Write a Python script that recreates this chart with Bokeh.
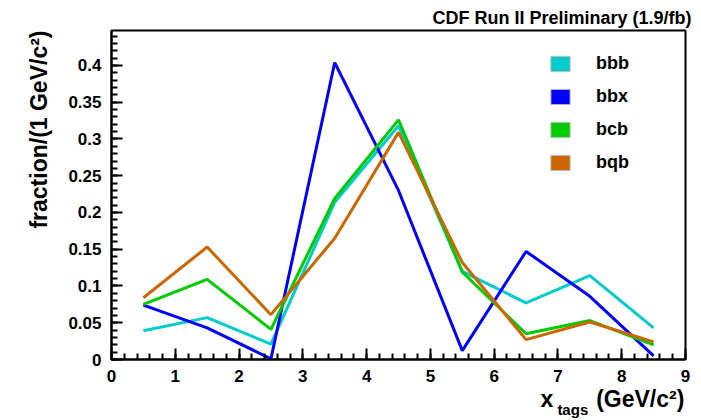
from bokeh.plotting import figure
from bokeh.models import (Range1d, FixedTicker, PrintfTickFormatter, Title,
                          Legend, LegendItem, LinearAxis)
from bokeh.embed import file_html
from bokeh.resources import INLINE

# ---- data ----
x_centers = [0.5, 1.5, 2.5, 3.5, 4.5, 5.5, 6.5, 7.5, 8.5]
bbb = [0.039, 0.057, 0.021, 0.214, 0.318, 0.120, 0.077, 0.114, 0.043]
bbx = [0.074, 0.043, 0.001, 0.404, 0.230, 0.012, 0.147, 0.086, 0.005]
bcb = [0.075, 0.109, 0.041, 0.219, 0.326, 0.119, 0.035, 0.053, 0.020]
bqb = [0.084, 0.153, 0.061, 0.165, 0.309, 0.132, 0.027, 0.051, 0.024]
series_names = ["bbb", "bbx", "bcb", "bqb"]
series_values = [bbb, bbx, bcb, bqb]
series_colors = ["#00CCCC", "#0000FF", "#00CC00", "#CC6600"]

x_major = [0, 1, 2, 3, 4, 5, 6, 7, 8, 9]
x_minor = [i * 0.2 for i in range(46)]
y_major = [0, 0.05, 0.1, 0.15, 0.2, 0.25, 0.3, 0.35, 0.4]
y_minor = [i * 0.01 for i in range(45)]
x_max = 9
y_max = 0.4476

title_text = "CDF Run II Preliminary (1.9/fb)"
y_label_text = "fraction/(1 GeV/c\u00b2)"
# x-axis title pieces, placed along the x scale
x_label_main = {6.826: "x", 8.29: "(GeV/c\u00b2)"}
x_label_sub = {7.233: "tags"}

FONT = "Liberation Sans"

p = figure(width=698, height=420, output_backend="svg", toolbar_location=None,
           x_range=Range1d(0, x_max), y_range=Range1d(0, y_max),
           min_border_left=111, min_border_right=13, min_border_top=30,
           min_border_bottom=61)
p.xgrid.visible = False
p.ygrid.visible = False
p.outline_line_color = "black"
p.outline_line_width = 2
p.background_fill_color = "white"
p.border_fill_color = "white"

p.title.text = title_text
p.title.align = "right"
p.title.offset = -6
p.title.text_font = FONT
p.title.text_font_style = "bold"
p.title.text_font_size = "18px"
p.title.text_color = "black"
p.title.standoff = 5

for ax, maj, mino in ((p.xaxis[0], x_major, x_minor), (p.yaxis[0], y_major, y_minor)):
    ax.ticker = FixedTicker(ticks=maj, minor_ticks=mino)
    ax.axis_line_color = "black"
    ax.axis_line_width = 2
    ax.major_tick_line_width = 2
    ax.minor_tick_line_width = 2
    ax.major_tick_in = 11
    ax.major_tick_out = 0
    ax.minor_tick_in = 6
    ax.minor_tick_out = 0
    ax.major_label_text_font = FONT
    ax.major_label_text_font_style = "bold"
    ax.major_label_text_font_size = "17px"
    ax.major_label_text_color = "black"
    ax.major_label_standoff = 10

p.yaxis[0].formatter = PrintfTickFormatter(format="%g")

# y-axis title on the left, aligned to the top end
p.add_layout(Title(text=y_label_text, align="right", text_font=FONT,
                   text_font_style="bold", text_font_size="23px",
                   text_color="black", standoff=27), "left")


def label_axis(labels, size, standoff):
    ax = LinearAxis(ticker=FixedTicker(ticks=list(labels.keys())),
                    major_label_overrides=labels)
    ax.axis_line_color = None
    ax.major_tick_line_color = None
    ax.minor_tick_line_color = None
    ax.major_tick_in = 0
    ax.major_tick_out = 0
    ax.minor_tick_in = 0
    ax.minor_tick_out = 0
    ax.major_label_text_font = FONT
    ax.major_label_text_font_style = "bold"
    ax.major_label_text_font_size = size
    ax.major_label_text_color = "black"
    ax.major_label_standoff = standoff
    p.add_layout(ax, "below")


label_axis(x_label_main, "23px", 1)
label_axis(x_label_sub, "15px", -14)

for name, vals, col in zip(series_names, series_values, series_colors):
    p.line(x_centers, vals, line_color=col, line_width=3)

# legend with filled boxes (renderers hold no visible data)
nan = float("nan")
items = []
for name, col in zip(series_names, series_colors):
    r = p.rect(x=[nan], y=[nan], width=1, height=1, fill_color=col,
               line_color="#BBBBBB", line_width=1)
    items.append(LegendItem(label=name, renderers=[r]))
leg = Legend(items=items, location=(437, 186), padding=0, margin=0,
             glyph_width=24, glyph_height=19, label_height=19, spacing=12,
             label_standoff=24, border_line_alpha=0, background_fill_alpha=0,
             label_text_font=FONT, label_text_font_style="bold",
             label_text_font_size="18px", label_text_color="black")
p.add_layout(leg, "center")

open("out.html", "w").write(file_html(p, INLINE))
